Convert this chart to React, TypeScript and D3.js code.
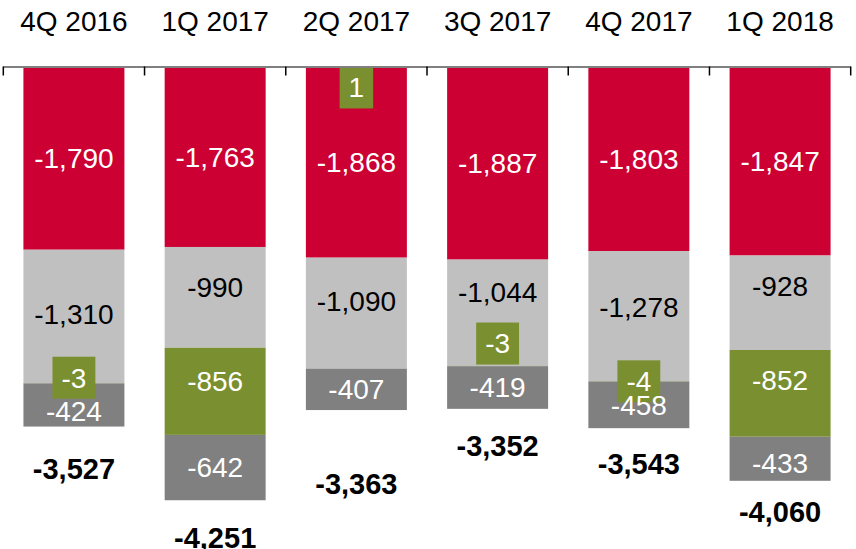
import React from "react";
import * as d3 from "d3";

const categories = ["4Q 2016", "1Q 2017", "2Q 2017", "3Q 2017", "4Q 2017", "1Q 2018"];
const redValues = [-1790, -1763, -1868, -1887, -1803, -1847];
const lightGrayValues = [-1310, -990, -1090, -1044, -1278, -928];
const greenValues = [-3, -856, 1, -3, -4, -852];
const darkGrayValues = [-424, -642, -407, -419, -458, -433];
const totals = [-3527, -4251, -3363, -3352, -3543, -4060];

const series = [
  { key: "red", values: redValues, color: "#CC0033", text: "#ffffff" },
  { key: "lightGray", values: lightGrayValues, color: "#C0C0C0", text: "#000000" },
  { key: "green", values: greenValues, color: "#7A8F2F", text: "#ffffff" },
  { key: "darkGray", values: darkGrayValues, color: "#808080", text: "#ffffff" },
];

// label placement tweaks (Excel moved some labels around to avoid collisions)
const labelNudge: Record<string, Record<string, number>> = {
  red: {},
  lightGray: { "4Q 2016": -2, "1Q 2017": -10, "2Q 2017": -12, "3Q 2017": -21, "4Q 2017": -8.5, "1Q 2018": -17 },
  green: { "4Q 2016": -5.5, "1Q 2017": -10, "2Q 2017": 20, "3Q 2017": -22.5, "1Q 2018": -13 },
  darkGray: { "4Q 2016": 6, "1Q 2018": 4 },
};
const totalGap: Record<string, number> = {
  "4Q 2016": 42.5,
  "1Q 2017": 38,
  "2Q 2017": 74,
  "3Q 2017": 37,
  "4Q 2017": 35.5,
  "1Q 2018": 31,
};

const WIDTH = 856;
const HEIGHT = 549;
const AXIS_Y = 67.5;
const PX_PER_UNIT = 0.1018;
const FONT = "'Liberation Sans', Arial, sans-serif";
const FONT_SIZE = 28;

const fmt = d3
  .formatLocale({ decimal: ".", thousands: ",", grouping: [3], currency: ["$", ""], minus: "-" })
  .format(",");

const textWidth = (s: string) =>
  s.split("").reduce((acc, ch) => acc + (ch === "-" ? 0.333 : ch === "," ? 0.278 : 0.556), 0) * FONT_SIZE;

export default function App() {
  const x = d3
    .scaleBand()
    .domain(categories)
    .range([3.3, 850.7])
    .paddingInner(0.285)
    .paddingOuter(0.1425);

  const y = d3
    .scaleLinear()
    .domain([0, -4500])
    .range([AXIS_Y, AXIS_Y + 4500 * PX_PER_UNIT]);

  const rows = categories.map((c, i) => {
    const row: Record<string, any> = { category: c };
    series.forEach((s) => (row[s.key] = s.values[i]));
    return row;
  });

  const stacked = d3
    .stack<Record<string, any>>()
    .keys(series.map((s) => s.key))
    .offset(d3.stackOffsetDiverging)(rows);

  const step = x.step();
  const [r0, r1] = x.range();
  const tickXs = d3.range(categories.length + 1).map((i) => r0 + i * step);

  return (
    <svg
      width={WIDTH}
      height={HEIGHT}
      style={{ position: "absolute", left: 0, top: 0, background: "#fff" }}
      fontFamily={FONT}
    >
      {/* category labels on top */}
      {categories.map((c) => (
        <text
          key={c}
          x={(x(c) as number) + x.bandwidth() / 2}
          y={31}
          textAnchor="middle"
          fontSize={FONT_SIZE}
          fill="#000"
        >
          {c}
        </text>
      ))}

      {/* bars */}
      {stacked.map((layer, si) => (
        <g key={layer.key}>
          {layer.map((d, i) => {
            const top = Math.min(y(d[0]), y(d[1]));
            const h = Math.abs(y(d[1]) - y(d[0]));
            return (
              <rect
                key={categories[i]}
                x={x(categories[i])}
                y={top}
                width={x.bandwidth()}
                height={h}
                fill={series[si].color}
              />
            );
          })}
        </g>
      ))}

      {/* segment labels */}
      {stacked.map((layer, si) => (
        <g key={"lbl-" + layer.key}>
          {layer.map((d, i) => {
            const c = categories[i];
            const s = series[si];
            const v = s.values[i];
            const cx = (x(c) as number) + x.bandwidth() / 2;
            const cy = (y(d[0]) + y(d[1])) / 2 + (labelNudge[s.key][c] || 0);
            const label = fmt(v);
            if (s.key === "green" && Math.abs(v) < 50) {
              const bw = textWidth(label) + 18;
              const bh = 42;
              return (
                <g key={c}>
                  <rect x={cx - bw / 2} y={cy - bh / 2} width={bw} height={bh} fill={s.color} />
                  <text x={cx} y={cy} dy="0.35em" textAnchor="middle" fontSize={FONT_SIZE} fill="#fff">
                    {label}
                  </text>
                </g>
              );
            }
            return (
              <text key={c} x={cx} y={cy} dy="0.35em" textAnchor="middle" fontSize={FONT_SIZE} fill={s.text}>
                {label}
              </text>
            );
          })}
        </g>
      ))}

      {/* totals */}
      {categories.map((c, i) => (
        <text
          key={"tot-" + c}
          x={(x(c) as number) + x.bandwidth() / 2}
          y={y(totals[i]) + totalGap[c]}
          dy="0.35em"
          textAnchor="middle"
          fontSize={29}
          fontWeight="bold"
          fill="#000"
        >
          {fmt(totals[i])}
        </text>
      ))}

      {/* axis line with ticks between categories */}
      <g>
        <line x1={r0} x2={r1} y1={AXIS_Y - 0.5} y2={AXIS_Y - 0.5} strokeWidth={2} stroke="#808080" />
        {tickXs.map((tx, i) => (
          <line key={i} x1={tx} x2={tx} y1={AXIS_Y - 1} y2={AXIS_Y + 8} strokeWidth={1.5} stroke="#000" />
        ))}
      </g>
    </svg>
  );
}
